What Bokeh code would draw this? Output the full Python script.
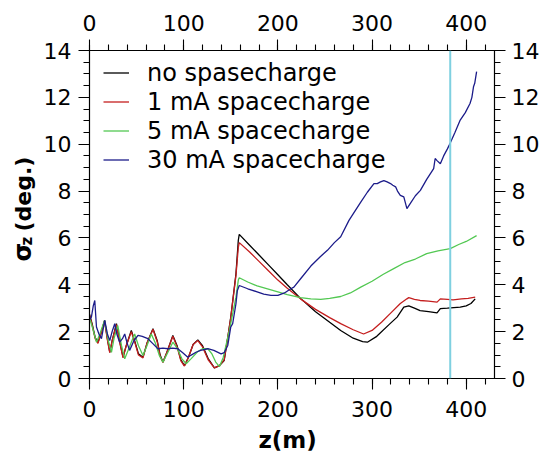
import numpy as np
from bokeh.plotting import figure
from bokeh.layouts import row, column
from bokeh.models import (LinearAxis, Range1d, Span, Legend, LegendItem,
                          SingleIntervalTicker)
from bokeh.core.properties import value
from bokeh.embed import file_html
from bokeh.resources import INLINE

# ---------------- data ----------------
z_none = [0, 3, 6, 9, 12, 16, 19, 21.5, 24, 28.6, 32, 35.6, 39, 44.4, 48, 52, 56.8, 61, 67.4,
          72, 75, 78, 82, 88.5, 93, 97, 100.8, 105, 110, 115, 120, 126, 132.6, 138, 143, 147,
          150, 155.5, 158, 159, 170, 180, 190, 200, 210, 224, 240, 255, 266.7, 280, 290, 295,
          305, 318, 326.6, 333.7, 339, 345, 351, 360, 369, 372.5, 380, 393.6, 400, 405, 409.5]
sig_none = [2.75, 2.3, 1.75, 1.55, 1.9, 2.48, 1.7, 1.12, 1.6, 2.34, 1.6, 0.91, 1.4, 2.05, 1.6,
            1.05, 0.91, 1.5, 2.12, 1.6, 1.0, 0.7, 1.1, 1.84, 1.4, 0.8, 0.55, 0.9, 1.45, 1.65,
            1.4, 0.85, 0.45, 0.55, 0.77, 1.8, 2.62, 4.47, 5.9, 6.15, 5.69, 5.27, 4.85, 4.43,
            4.0, 3.42, 2.85, 2.4, 2.05, 1.72, 1.57, 1.55, 1.8, 2.3, 2.62, 3.05, 3.1, 3.0, 2.9,
            2.85, 2.8, 2.98, 3.0, 3.05, 3.1, 3.2, 3.4]

z_1ma = [0, 3, 6, 9, 12, 16, 19, 21.5, 24, 28.6, 32, 35.6, 39, 44.4, 48, 52, 56.8, 61, 67.4,
         72, 75, 78, 82, 88.5, 93, 97, 100.8, 105, 110, 115, 120, 126, 132.6, 138, 143, 147,
         150, 155.5, 158, 159, 170, 180, 190, 200, 210, 224, 240, 255, 266.7, 280, 291, 300,
         310, 320, 330, 337, 339, 345, 351, 360, 369, 372.5, 380, 386, 395, 402, 409.5]
sig_1ma = [2.7, 2.25, 1.7, 1.5, 1.9, 2.45, 1.65, 1.1, 1.6, 2.3, 1.55, 0.88, 1.4, 2.0, 1.55,
           1.0, 0.88, 1.5, 2.1, 1.55, 0.95, 0.68, 1.1, 1.8, 1.35, 0.75, 0.53, 0.9, 1.45, 1.62,
           1.35, 0.8, 0.45, 0.55, 0.8, 1.8, 2.6, 4.4, 5.6, 5.8, 5.4, 5.0, 4.6, 4.2, 3.85, 3.4,
           2.95, 2.6, 2.34, 2.08, 1.9, 2.05, 2.4, 2.8, 3.2, 3.4, 3.45, 3.38, 3.33, 3.3, 3.26,
           3.4, 3.38, 3.36, 3.4, 3.42, 3.47]

z_5ma = [0, 3, 7.4, 11, 16, 20, 23.3, 26, 30, 34, 37.4, 42, 47.9, 52, 56.8, 61, 65.6, 70, 74,
         78, 83, 88.5, 93, 98, 102.6, 108, 115, 120, 125.6, 130, 134, 138, 142, 148.5, 155.5,
         158, 159, 168, 178, 189, 200, 210, 224, 235, 245.5, 255, 266.7, 277, 288, 300, 312,
         323, 335, 346, 358, 370, 383, 392, 400, 411]
sig_5ma = [2.6, 2.2, 1.55, 1.9, 2.48, 1.6, 1.12, 1.7, 2.26, 1.4, 0.84, 1.3, 1.9, 1.4, 0.98,
           1.4, 1.9, 1.5, 1.0, 0.7, 1.1, 1.55, 1.3, 0.85, 0.63, 0.85, 1.15, 1.27, 1.27, 1.05,
           0.7, 0.51, 0.9, 2.05, 3.47, 4.2, 4.3, 4.12, 3.95, 3.83, 3.7, 3.58, 3.45, 3.4, 3.38,
           3.42, 3.5, 3.65, 3.9, 4.15, 4.45, 4.69, 4.95, 5.1, 5.33, 5.45, 5.54, 5.72, 5.85, 6.1]

z_30ma = [0, 2, 4, 5.6, 7.4, 10, 12.7, 16.2, 19, 21.5, 24, 26.8, 29, 32, 35, 37.4, 40, 42.6,
          47, 51.5, 56, 62, 67, 72.7, 78, 83.3, 88, 93.8, 99, 104.4, 108, 113, 118, 125.6, 132,
          139.7, 143, 146.8, 150, 152, 155.5, 157, 159, 168, 178, 185, 192.6, 200, 207, 213.8,
          217, 225, 235, 245, 252.6, 260, 266.7, 275.5, 288, 295, 302, 305.5, 309, 312.5, 316,
          319.6, 322, 325, 327, 330, 333.7, 337, 341, 346, 351.3, 358, 365.4, 367, 369, 372.5,
          376, 380, 383, 388, 393.6, 399, 404, 406, 407.7, 409, 411]
sig_30ma = [2.5, 2.62, 3.1, 3.33, 2.2, 1.9, 1.7, 2.48, 1.9, 1.62, 2.0, 2.34, 1.9, 1.55, 1.7,
            1.9, 1.5, 1.2, 1.6, 1.84, 1.8, 1.7, 1.5, 1.27, 1.3, 1.27, 1.3, 1.27, 1.1, 0.91, 1.0,
            1.12, 1.2, 1.27, 1.2, 1.05, 1.1, 1.41, 2.2, 2.34, 3.19, 3.76, 3.97, 3.83, 3.7, 3.6,
            3.55, 3.55, 3.65, 3.83, 3.9, 4.3, 4.8, 5.2, 5.47, 5.8, 6.05, 6.75, 7.53, 7.95, 8.32,
            8.32, 8.39, 8.45, 8.39, 8.32, 8.25, 8.18, 8.0, 7.82, 7.75, 7.25, 7.5, 7.8, 8.03, 8.5,
            8.96, 9.39, 9.3, 9.17, 9.5, 9.8, 10.05, 10.5, 11.03, 11.35, 11.74, 12.0, 12.45, 12.6,
            13.1]

series_labels = ["no spasecharge", "1 mA spacecharge", "5 mA spacecharge", "30 mA spacecharge"]
series_colors = ["#000000", "#c41e1e", "#52c852", "#1c1c8a"]
marker_z = 383
x_limits = (0, 430)
y_limits = (0, 14)
x_title = "z(m)"
y_title_parts = ["σ", "z", "(deg.)"]

FONT = "DejaVu Sans"


def bare(fig):
    fig.grid.visible = False
    fig.outline_line_color = None
    fig.background_fill_color = "white"
    fig.border_fill_color = "white"
    return fig


# ---------------- main plot ----------------
p = figure(width=503, height=426, output_backend="svg", toolbar_location=None,
           x_range=Range1d(*x_limits), y_range=Range1d(*y_limits),
           min_border_left=48, min_border_right=49, min_border_top=50, min_border_bottom=48,
           x_axis_location=None, y_axis_location=None)
p.grid.visible = False
p.outline_line_color = "black"
p.outline_line_width = 1.1
p.background_fill_color = "white"
p.border_fill_color = "white"


def style(ax, interval, nminor, standoff):
    ax.ticker = SingleIntervalTicker(interval=interval, num_minor_ticks=nminor)
    ax.major_tick_out = 11
    ax.major_tick_in = 0
    ax.minor_tick_out = 6
    ax.minor_tick_in = 0
    ax.axis_line_color = "black"
    ax.major_tick_line_color = "black"
    ax.minor_tick_line_color = "black"
    ax.axis_line_width = 1.1
    ax.major_tick_line_width = 1.1
    ax.minor_tick_line_width = 1.1
    ax.major_label_text_font = FONT
    ax.major_label_text_font_size = "22px"
    ax.major_label_text_color = "black"
    ax.major_label_standoff = standoff


bottom = LinearAxis()
style(bottom, 100, 5, 11)
top = LinearAxis()
style(top, 100, 5, 9)
left = LinearAxis()
style(left, 2, 4, 7)
right = LinearAxis()
style(right, 2, 4, 6)
p.add_layout(bottom, "below")
p.add_layout(top, "above")
p.add_layout(left, "left")
p.add_layout(right, "right")

renderers = []
for zs, ss, col in [(z_none, sig_none, series_colors[0]), (z_1ma, sig_1ma, series_colors[1]),
                    (z_5ma, sig_5ma, series_colors[2]), (z_30ma, sig_30ma, series_colors[3])]:
    renderers.append(p.line(zs, ss, line_color=col, line_width=1.3))

p.add_layout(Span(location=marker_z, dimension="height", line_color="#7fd0e0", line_width=2))

legend = Legend(items=[LegendItem(label=lab, renderers=[r]) for lab, r in zip(series_labels, renderers)],
                location=(0, 190), padding=14, margin=0, spacing=0,
                glyph_width=26, glyph_height=29, label_height=29, label_standoff=18,
                label_text_font=FONT, label_text_font_size="24px", label_text_color="black",
                border_line_alpha=0, background_fill_alpha=0)
p.add_layout(legend, "center")

# ---------------- y-axis title strip (left) ----------------
yfig = bare(figure(width=40, height=453, output_backend="svg", toolbar_location=None,
                   x_range=Range1d(0, 40), y_range=Range1d(0, 453), min_border=0,
                   x_axis_location=None, y_axis_location=None, title=None))
yfig.text(x=[22], y=[192], text=[y_title_parts[0]], angle=np.pi / 2,
          text_font=value(FONT), text_font_style="bold", text_font_size="24px",
          text_align="left", text_baseline="alphabetic", text_color="black")
yfig.text(x=[26], y=[208], text=[y_title_parts[1]], angle=np.pi / 2,
          text_font=value(FONT), text_font_style="bold", text_font_size="15px",
          text_align="left", text_baseline="alphabetic", text_color="black")
yfig.text(x=[23], y=[222], text=[y_title_parts[2]], angle=np.pi / 2,
          text_font=value(FONT), text_font_style="bold", text_font_size="22px",
          text_align="left", text_baseline="alphabetic", text_color="black")

# ---------------- x-axis title strip (bottom) ----------------
xfig = bare(figure(width=503, height=27, output_backend="svg", toolbar_location=None,
                   x_range=Range1d(0, 503), y_range=Range1d(0, 27), min_border=0,
                   x_axis_location=None, y_axis_location=None, title=None))
xfig.text(x=[246], y=[13.5], text=[x_title], text_font=value(FONT), text_font_style="bold",
          text_font_size="23px", text_align="center", text_baseline="middle",
          text_color="black")

layout = row(yfig, column(p, xfig))
open("out.html", "w").write(file_html(layout, INLINE))
